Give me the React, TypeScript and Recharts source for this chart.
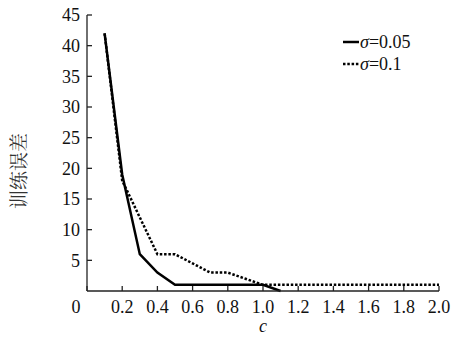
import { LineChart, Line, XAxis, YAxis, Legend, Label } from "recharts";

const C_VALUES = [0.1, 0.2, 0.3, 0.4, 0.5, 0.6, 0.7, 0.8, 0.9, 1.0, 1.1, 1.2, 1.3, 1.4, 1.5, 1.6, 1.7, 1.8, 1.9, 2.0];
const SIGMA_005 = [42, 19, 6, 3, 1, 1, 1, 1, 1, 1, 0];
const SIGMA_01 = [42, 18, 12, 6, 6, 4.5, 3, 3, 2, 1, 1, 1, 1, 1, 1, 1, 1, 1, 1, 1];
const X_TICKS = [0, 0.2, 0.4, 0.6, 0.8, 1.0, 1.2, 1.4, 1.6, 1.8, 2.0];
const Y_TICKS = [5, 10, 15, 20, 25, 30, 35, 40, 45];

const data = C_VALUES.map((c, i) => ({ c, s005: SIGMA_005[i], s01: SIGMA_01[i] }));

const FONT = "Liberation Serif, serif";
const AXIS = "#222";

function XTick({ x, y, payload }: any) {
  const v = payload.value as number;
  return (
    <text x={v === 0 ? x - 11 : x} y={y} dy="0.71em" textAnchor="middle" fontSize={18} fill="#111" fontFamily={FONT}>
      {v === 0 ? "0" : v.toFixed(1)}
    </text>
  );
}

function LegendBox() {
  const row = (dash: boolean, label: string) => (
    <div style={{ display: "flex", alignItems: "center", height: 22 }}>
      <svg width={17} height={10}>
        <line x1={0} y1={5} x2={16} y2={5} stroke="#000" strokeWidth={2.5} strokeDasharray={dash ? "2.5 1.8" : undefined} />
      </svg>
      <span style={{ fontFamily: FONT, fontSize: 18, color: "#111", lineHeight: "22px" }}>
        <i>σ</i>=<span>{label}</span>
      </span>
    </div>
  );
  return (
    <div>
      {row(false, "0.05")}
      {row(true, "0.1")}
    </div>
  );
}

export default function App() {
  return (
    <div style={{ position: "absolute", left: 0, top: 0, width: 451, height: 340, background: "#fff", fontFamily: FONT }}>
      <LineChart width={451} height={340} data={data} margin={{ top: 15, right: 12, left: 0, bottom: 0 }}>
        <XAxis
          dataKey="c"
          type="number"
          domain={[0, 2]}
          ticks={X_TICKS}
          height={49}
          tickSize={-5}
          tickMargin={14}
          stroke={AXIS}
          strokeWidth={1.3}
          tick={<XTick />}
          interval={0}
          allowDataOverflow
        >
          <Label value="c" position="insideBottom" offset={8} style={{ fontStyle: "italic", fontSize: 18, fill: "#111", fontFamily: FONT }} />
        </XAxis>
        <XAxis
          xAxisId="top"
          orientation="top"
          dataKey="c"
          type="number"
          domain={[0, 2]}
          ticks={X_TICKS}
          height={0}
          tickSize={-5}
          tick={false}
          stroke={AXIS}
          strokeWidth={1.3}
        />
        <YAxis
          type="number"
          domain={[0, 45]}
          ticks={Y_TICKS}
          width={87}
          tickSize={-5}
          tickMargin={12}
          stroke={AXIS}
          strokeWidth={1.3}
          tick={{ fontSize: 18, fill: "#111", fontFamily: FONT }}
          interval={0}
        >
          <Label
            content={() => (
              <text
                x={17}
                y={171}
                transform="rotate(-90 17 171)"
                textAnchor="middle"
                dominantBaseline="central"
                fontSize={19}
                fill="#333"
                fontFamily="Noto Serif CJK SC, Noto Sans CJK SC, serif"
              >
                训练误差
              </text>
            )}
          />
        </YAxis>
        <YAxis
          yAxisId="right"
          orientation="right"
          type="number"
          domain={[0, 45]}
          ticks={Y_TICKS}
          width={0}
          tickSize={-5}
          tick={false}
          stroke={AXIS}
          strokeWidth={1.3}
        />
        <Legend
          content={<LegendBox />}
          layout="vertical"
          align="center"
          verticalAlign="middle"
          wrapperStyle={{ left: 343, top: 31, width: 100 }}
        />
        <Line dataKey="s005" stroke="#000" strokeWidth={2.5} dot={false} isAnimationActive={false} legendType="none" />
        <Line dataKey="s01" stroke="#000" strokeWidth={2.5} strokeDasharray="2.5 1.8" dot={false} isAnimationActive={false} legendType="none" />
      </LineChart>
    </div>
  );
}
